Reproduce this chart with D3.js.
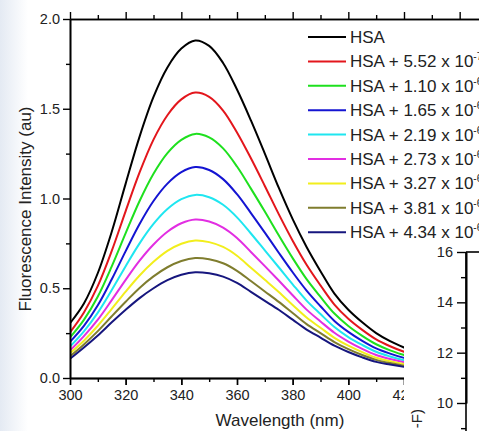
<!DOCTYPE html>
<html>
<head>
<meta charset="utf-8">
<script src="https://cdn.jsdelivr.net/npm/d3@7"></script>
<style>
  html, body { margin: 0; padding: 0; background: #ffffff; }
  svg { display: block; font-family: "Liberation Sans", Arial, sans-serif; }
</style>
</head>
<body>
<script>
// ---------- data ----------
const wavelengths = [300,305,310,315,320,325,330,335,340,345,350,355,360,365,370,375,380,385,390,395,400,405,410,415,420,425];

const hsa     = [0.305,0.415,0.585,0.815,1.083,1.345,1.566,1.730,1.835,1.880,1.850,1.755,1.607,1.435,1.250,1.060,0.885,0.730,0.595,0.470,0.380,0.310,0.250,0.205,0.170,0.140];
const conc552 = [0.254,0.365,0.513,0.708,0.930,1.145,1.328,1.464,1.552,1.590,1.566,1.490,1.368,1.224,1.070,0.913,0.765,0.631,0.516,0.409,0.330,0.268,0.215,0.177,0.146,0.121];
const conc110 = [0.226,0.324,0.454,0.622,0.807,0.986,1.138,1.253,1.327,1.360,1.340,1.279,1.178,1.055,0.927,0.795,0.668,0.551,0.452,0.359,0.290,0.235,0.188,0.154,0.128,0.105];
const conc165 = [0.201,0.290,0.405,0.550,0.707,0.858,0.986,1.083,1.147,1.175,1.159,1.108,1.024,0.919,0.810,0.698,0.589,0.487,0.400,0.318,0.257,0.207,0.165,0.136,0.112,0.093];
const conc219 = [0.175,0.260,0.364,0.490,0.623,0.750,0.858,0.941,0.996,1.020,1.007,0.965,0.895,0.805,0.711,0.617,0.522,0.431,0.356,0.284,0.228,0.184,0.146,0.120,0.099,0.083];
const conc273 = [0.153,0.233,0.325,0.434,0.547,0.654,0.744,0.815,0.862,0.883,0.872,0.838,0.780,0.702,0.623,0.543,0.461,0.381,0.315,0.252,0.203,0.162,0.128,0.106,0.088,0.073];
const conc327 = [0.138,0.208,0.291,0.385,0.481,0.571,0.647,0.708,0.748,0.766,0.757,0.730,0.681,0.614,0.547,0.479,0.407,0.337,0.280,0.224,0.180,0.144,0.113,0.094,0.078,0.065];
const conc381 = [0.121,0.187,0.261,0.344,0.425,0.502,0.566,0.617,0.652,0.668,0.661,0.639,0.597,0.540,0.482,0.424,0.362,0.300,0.250,0.200,0.161,0.128,0.101,0.083,0.069,0.058];
const conc434 = [0.107,0.170,0.237,0.310,0.380,0.445,0.500,0.545,0.575,0.589,0.583,0.565,0.530,0.480,0.430,0.380,0.325,0.270,0.225,0.180,0.145,0.115,0.090,0.075,0.062,0.052];

const seriesValues = [hsa, conc552, conc110, conc165, conc219, conc273, conc327, conc381, conc434];
const seriesColors = ["#000000","#e3161c","#1ee01e","#1414d2","#1fe6f0","#e22ee2","#f2ee1c","#7f7d2e","#16167e"];
const legendBase = ["HSA","HSA + 5.52 x 10","HSA + 1.10 x 10","HSA + 1.65 x 10","HSA + 2.19 x 10","HSA + 2.73 x 10","HSA + 3.27 x 10","HSA + 3.81 x 10","HSA + 4.34 x 10"];
const legendExp  = ["","-7","-6","-6","-6","-6","-6","-6","-6"];

const xLabelTicks = [300,320,340,360,380,400,420];
const xMajorTicks = [300,320,340,360,380,400,420,440];
const xMinorTicks = [310,330,350,370,390,410,430,450];
const yMajorTicks = [0.0,0.5,1.0,1.5,2.0];
const yMinorTicks = [0.25,0.75,1.25,1.75];
const insetMajorTicks = [10,12,14,16];
const insetMinorTicks = [9,11,13,15];

// ---------- layout ----------
const W = 479, H = 431;
const TICK_FS = 14.5;
const svg = d3.select("body").append("svg").attr("width", W).attr("height", H);

// faint slide tint on the left edge
const defs = svg.append("defs");
const grad = defs.append("linearGradient").attr("id","edge").attr("x1","0").attr("x2","1");
grad.append("stop").attr("offset","0").attr("stop-color","#e4eaf3");
grad.append("stop").attr("offset","1").attr("stop-color","#ffffff");
svg.append("rect").attr("x",0).attr("y",0).attr("width",28).attr("height",H).attr("fill","url(#edge)");

const x = d3.scaleLinear().domain([300, 450]).range([70, 70 + 150 * 2.7833]);
const y = d3.scaleLinear().domain([0, 2]).range([378, 19]);

defs.append("clipPath").attr("id","plotclip")
  .append("rect").attr("x",70).attr("y",19).attr("width",W-70).attr("height",359);

// curves
const line = d3.line()
  .x((d,i) => x(wavelengths[i]))
  .y(d => y(d))
  .curve(d3.curveCatmullRom.alpha(0.5));

const gCurves = svg.append("g").attr("clip-path","url(#plotclip)");
seriesValues.forEach((vals, k) => {
  gCurves.append("path")
    .attr("d", line(vals))
    .attr("fill","none")
    .attr("stroke", seriesColors[k])
    .attr("stroke-width", 2)
    .attr("stroke-linejoin","round");
});

function styleAxis(g, fs) {
  g.selectAll("path.domain").attr("stroke","#000").attr("stroke-width",1.6);
  g.selectAll(".tick line").attr("stroke","#000").attr("stroke-width",1.4);
  g.selectAll(".tick text").attr("fill","#222").style("font-size", fs + "px")
    .style("font-family","'Liberation Sans', Arial, sans-serif");
}

// bottom axis
const gxMin = svg.append("g").attr("transform","translate(0,378)")
  .call(d3.axisBottom(x).tickValues(xMinorTicks).tickSize(4).tickSizeOuter(0).tickFormat(""));
styleAxis(gxMin, TICK_FS);
const gxMaj = svg.append("g").attr("transform","translate(0,378)")
  .call(d3.axisBottom(x).tickValues(xMajorTicks).tickSize(7).tickSizeOuter(0).tickFormat(""));
styleAxis(gxMaj, TICK_FS);
const gx = svg.append("g").attr("transform","translate(0,378)")
  .call(d3.axisBottom(x).tickValues(xLabelTicks).tickSize(7).tickSizeOuter(0).tickPadding(5).tickFormat(d3.format("d")));
styleAxis(gx, TICK_FS);

// top axis (frame)
const gtMin = svg.append("g").attr("transform","translate(0,19)")
  .call(d3.axisTop(x).tickValues(xMinorTicks).tickSize(4).tickSizeOuter(0).tickFormat(""));
styleAxis(gtMin, TICK_FS);
const gt = svg.append("g").attr("transform","translate(0,19)")
  .call(d3.axisTop(x).tickValues(xMajorTicks).tickSize(7).tickSizeOuter(0).tickFormat(""));
styleAxis(gt, TICK_FS);

// left axis
const gyMin = svg.append("g").attr("transform","translate(70,0)")
  .call(d3.axisLeft(y).tickValues(yMinorTicks).tickSize(4).tickSizeOuter(0).tickFormat(""));
styleAxis(gyMin, TICK_FS);
const gy = svg.append("g").attr("transform","translate(70,0)")
  .call(d3.axisLeft(y).tickValues(yMajorTicks).tickSize(7).tickSizeOuter(0).tickPadding(3).tickFormat(d3.format(".1f")));
styleAxis(gy, TICK_FS);

// axis titles
svg.append("text")
  .attr("transform","translate(31,209) rotate(-90)")
  .attr("text-anchor","middle")
  .attr("fill","#222")
  .style("font-size","17px")
  .text("Fluorescence Intensity (au)");

svg.append("text")
  .attr("x", 280).attr("y", 426)
  .attr("text-anchor","middle")
  .attr("fill","#222")
  .style("font-size","17px")
  .text("Wavelength (nm)");

// legend
const legend = svg.append("g");
seriesColors.forEach((c, k) => {
  const ly = 37 + k * 24.4;
  legend.append("line")
    .attr("x1",308).attr("x2",346).attr("y1",ly).attr("y2",ly)
    .attr("stroke",c).attr("stroke-width",2);
  const t = legend.append("text")
    .attr("x",350).attr("y",ly + 6)
    .attr("fill","#222")
    .style("font-size","17px");
  t.append("tspan").text(legendBase[k]);
  if (legendExp[k]) {
    t.append("tspan").attr("dy",-7).style("font-size","10px").text(legendExp[k]);
  }
});

// inset (white panel covering the lower right)
svg.append("rect").attr("x",404).attr("y",241).attr("width",W-404).attr("height",H-241).attr("fill","#ffffff");
const yi = d3.scaleLinear().domain([10,16]).range([403, 252]);
const giMin = svg.append("g").attr("transform","translate(466,0)")
  .call(d3.axisLeft(yi).tickValues(insetMinorTicks).tickSize(5).tickSizeOuter(0).tickFormat(""));
styleAxis(giMin, TICK_FS);
const gi = svg.append("g").attr("transform","translate(466,0)")
  .call(d3.axisLeft(yi).tickValues(insetMajorTicks).tickSize(9).tickSizeOuter(0).tickPadding(4).tickFormat(d3.format("d")));
styleAxis(gi, TICK_FS);
// axis spine down to bottom and top frame
svg.append("line").attr("x1",466).attr("x2",466).attr("y1",252).attr("y2",H)
  .attr("stroke","#000").attr("stroke-width",1.6);
svg.append("line").attr("x1",466).attr("x2",W).attr("y1",252).attr("y2",252)
  .attr("stroke","#000").attr("stroke-width",1.6);

const il = svg.append("text")
  .attr("transform","translate(422,409) rotate(-90)")
  .attr("text-anchor","end")
  .attr("fill","#222")
  .style("font-size","15px");
il.append("tspan").text("-F)");
</script>
</body>
</html>
